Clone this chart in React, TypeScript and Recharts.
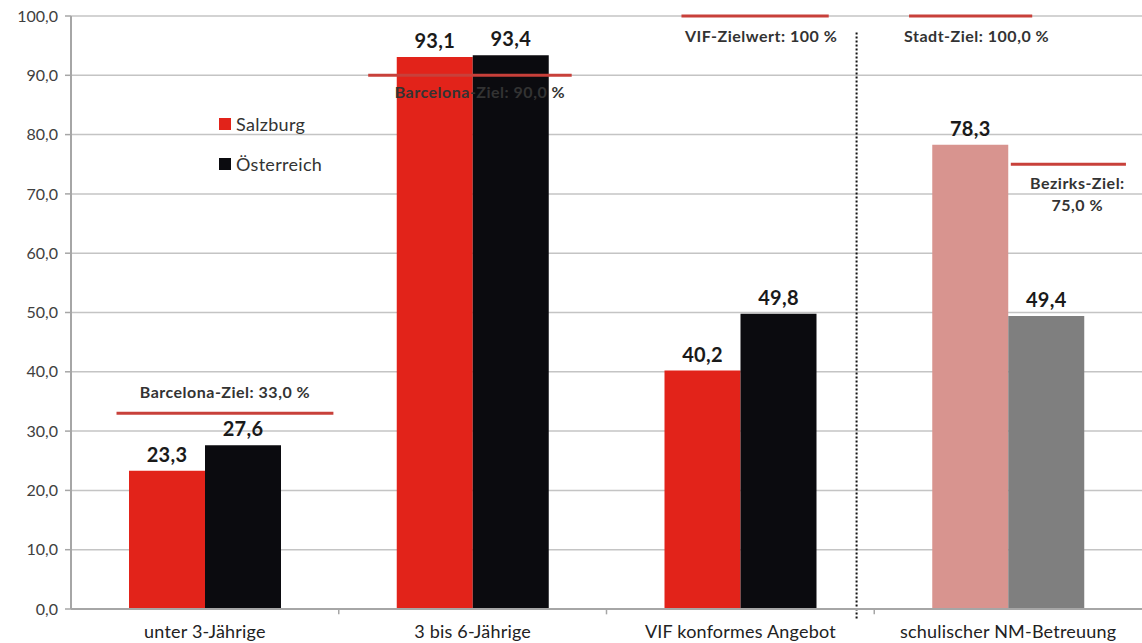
import {
  BarChart,
  Bar,
  XAxis,
  YAxis,
  CartesianGrid,
  Legend,
  LabelList,
  Cell,
  ReferenceLine,
} from 'recharts'

const categories = ['unter 3-Jährige', '3 bis 6-Jährige', 'VIF konformes Angebot', 'schulischer NM-Betreuung']
const salzburg = [23.3, 93.1, 40.2, 78.3]
const oesterreich = [27.6, 93.4, 49.8, 49.4]
const yTicks = [0, 10, 20, 30, 40, 50, 60, 70, 80, 90, 100]

const targetValues = [33, 90, 100, 100, 75]
const targetLabels = [
  ['Barcelona-Ziel: 33,0 %'],
  ['Barcelona-Ziel: 90,0 %'],
  ['VIF-Zielwert: 100 %'],
  ['Stadt-Ziel: 100,0 %'],
  ['Bezirks-Ziel:', '75,0 %'],
]

// where the target lines sit (category units on the hidden numeric axis) and label offsets
const targetLayout = [
  { from: 0.17, to: 0.98, dx: 0, dy: -22 },
  { from: 1.11, to: 1.87, dx: 10, dy: 16 },
  { from: 2.28, to: 2.83, dx: 6, dy: 19 },
  { from: 3.13, to: 3.59, dx: 6, dy: 19 },
  { from: 3.51, to: 3.94, dx: 9, dy: 18 },
]

const RED = '#e2231a'
const BLACK = '#0b0b0f'
const salzburgColors = [RED, RED, RED, '#d8948f']
const oesterreichColors = [BLACK, BLACK, BLACK, '#7f7f7f']
const FONT = 'Lato, "Open Sans", sans-serif'

const data = categories.map((name, i) => ({ name, pos: i + 0.5, salzburg: salzburg[i], oesterreich: oesterreich[i] }))

const fmt = (v: number) => v.toFixed(1).replace('.', ',')

const renderTarget = (props: any, i: number) => {
  const vb = props.viewBox || {}
  const cx = vb.x + (vb.width || 0) / 2 + targetLayout[i].dx
  const cy = vb.y + targetLayout[i].dy
  return (
    <g>
      {targetLabels[i].map((t, k) => (
        <text
          key={t}
          x={cx}
          y={cy + k * 22}
          textAnchor="middle"
          dominantBaseline="central"
          fontFamily={FONT}
          fontWeight={700}
          fontSize={16}
          letterSpacing={0.5}
          fill="#333"
        >
          {t}
        </text>
      ))}
    </g>
  )
}

const LegendBox = () => (
  <div style={{ fontFamily: FONT, fontSize: 18, letterSpacing: 0.3, color: '#333' }}>
    {[
      ['Salzburg', RED],
      ['Österreich', BLACK],
    ].map(([label, color]) => (
      <div key={label} style={{ display: 'flex', alignItems: 'center', height: 40 }}>
        <span style={{ width: 12, height: 12, background: color, marginRight: 5, display: 'inline-block' }} />
        {label}
      </div>
    ))}
  </div>
)

export default function App() {
  return (
    <div style={{ position: 'absolute', left: 0, top: 0, background: '#fff' }}>
      <BarChart
        width={1142}
        height={643}
        data={data}
        margin={{ top: 16, right: 0, left: 2, bottom: 0 }}
        barGap={0}
        barSize={76}
      >
        <CartesianGrid vertical={false} stroke="#c4c4c4" strokeWidth={1.5} />
        <XAxis
          xAxisId="c"
          dataKey="name"
          height={34}
          tickLine={false}
          axisLine={{ stroke: '#a6a6a6', strokeWidth: 2 }}
          tickMargin={10}
          tick={{ fontFamily: FONT, fontSize: 18, fill: '#222', letterSpacing: 0.2 }}
        />
        <XAxis xAxisId="n" dataKey="pos" type="number" domain={[0, 4]} allowDataOverflow hide />
        <YAxis
          width={69}
          domain={[0, 100]}
          ticks={yTicks}
          tickFormatter={fmt}
          tickSize={6}
          tickMargin={7}
          axisLine={{ stroke: '#a6a6a6', strokeWidth: 2 }}
          tickLine={{ stroke: '#a6a6a6', strokeWidth: 1.5 }}
          tick={{ fontFamily: FONT, fontSize: 16, fill: '#404040' }}
        />
        <Legend
          layout="vertical"
          align="center"
          verticalAlign="middle"
          content={<LegendBox />}
          wrapperStyle={{ position: 'absolute', left: 219, top: 104, width: 'auto' }}
        />
        <Bar xAxisId="c" dataKey="salzburg" name="Salzburg" fill={RED} isAnimationActive={false}>
          {salzburgColors.map((c, i) => (
            <Cell key={i} fill={c} />
          ))}
          <LabelList
            dataKey="salzburg"
            position="top"
            offset={9}
            formatter={(v: any) => fmt(Number(v))}
            style={{ fontFamily: FONT, fontWeight: 700, fontSize: 20, fill: '#1a1a1a', letterSpacing: 0.3 }}
          />
        </Bar>
        <Bar xAxisId="c" dataKey="oesterreich" name="Österreich" fill={BLACK} isAnimationActive={false}>
          {oesterreichColors.map((c, i) => (
            <Cell key={i} fill={c} />
          ))}
          <LabelList
            dataKey="oesterreich"
            position="top"
            offset={9}
            formatter={(v: any) => fmt(Number(v))}
            style={{ fontFamily: FONT, fontWeight: 700, fontSize: 20, fill: '#1a1a1a', letterSpacing: 0.3 }}
          />
        </Bar>
        {targetValues.map((v, i) => (
          <ReferenceLine
            key={i}
            xAxisId="n"
            segment={[
              { x: targetLayout[i].from, y: v },
              { x: targetLayout[i].to, y: v },
            ]}
            stroke="#c8403a"
            strokeWidth={3}
            label={(p: any) => renderTarget(p, i)}
          />
        ))}
        <ReferenceLine
          xAxisId="n"
          segment={[
            { x: 2.934, y: 97.2 },
            { x: 2.934, y: -1.9 },
          ]}
          ifOverflow="visible"
          stroke="#111"
          strokeWidth={2}
          strokeDasharray="2 2"
        />
        {[1, 2, 3].map((x) => (
          <ReferenceLine
            key={x}
            xAxisId="n"
            segment={[
              { x, y: 0 },
              { x, y: -0.9 },
            ]}
            ifOverflow="visible"
            stroke="#a6a6a6"
            strokeWidth={1.5}
          />
        ))}
      </BarChart>
    </div>
  )
}
